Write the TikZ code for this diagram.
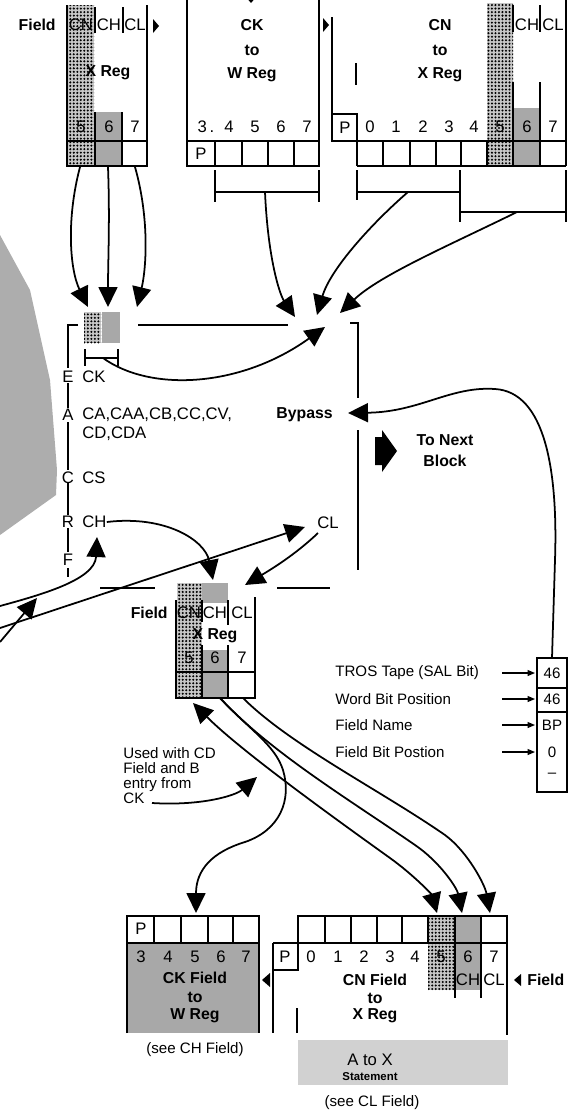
\documentclass[tikz,border=0pt]{standalone}
\usepackage{fontspec}
\setmainfont{Liberation Sans}
\usetikzlibrary{arrows.meta,patterns.meta,positioning}
\tikzset{
  % text labels
  lbl/.style={inner sep=0pt, font=\fontsize{9.5}{10}\selectfont},
  blbl/.style={inner sep=0pt, font=\fontsize{9}{10}\selectfont\bfseries},
  slbl/.style={inner sep=0pt, font=\fontsize{8.6}{8.6}\selectfont},
  tlbl/.style={inner sep=0pt, font=\fontsize{6.5}{7}\selectfont\bfseries},
  % register lines and frames
  cellline/.style={line width=0.8pt},
  frameline/.style={line width=1.4pt},
  coarse/.style={fill=black!22, postaction={pattern={Dots[distance=2pt,radius=0.65pt]}}},
  fine/.style={fill=black!34},
  light/.style={fill=black!18},
  % arrows
  bigtip/.tip={Triangle[length=0.4cm,width=0.38cm]},
  bigarr/.style={-bigtip, line width=1pt},
  dblarr/.style={bigtip-bigtip, line width=1pt},
  smarr/.style={-{Triangle[length=0.15cm,width=0.12cm]}, line width=0.7pt},
}
\begin{document}
\begin{tikzpicture}[x=0.02cm, y=-0.02cm]
  \useasboundingbox (0,0) rectangle (573,1119);

  % shaded wedge on the left
  \fill[black!32] (0,235) -- (30,290) -- (50,380) -- (57,470) -- (56,495) -- (0,535) -- cycle;

  % ---- top left: X Reg ----
  \fill[coarse] (67,5) rectangle (94,166);
  \fill[fine] (95,112) rectangle (122,166);
  \draw[cellline] (67,5) -- (67,166) -- (147,166) -- (147,5);
  \draw[cellline] (67,141) -- (147,141);
  \draw[cellline] (95,7) -- (95,33) (123,7) -- (123,33);
  \draw[cellline] (95,112) -- (95,166) (122,112) -- (122,166);
  \fill (153,19) -- (159,26) -- (153,33) -- cycle;
  \node[blbl, anchor=east] (fieldA) at (56,25) {Field};
  \node[lbl] (cnA) at (81,25) {CN};
  \node[lbl] (chA) at (109,25) {CH};
  \node[lbl] (clA) at (135,25) {CL};
  \node[blbl] (xregA) at (108,73) {X Reg};
  \node[lbl] (fiveA) at (81,127) {5};
  \node[lbl] (sixA) at (109,127) {6};
  \node[lbl] (sevenA) at (135,127) {7};

  % ---- top middle: CK to W Reg ----
  \fill (245,-4) -- (257,-4) -- (251,3) -- cycle;
  \draw[cellline] (187,-2) -- (187,166) -- (319,166) -- (319,-2);
  \draw[cellline] (187,141) -- (319,141);
  \foreach \x in {215,242,268,294}
    \draw[cellline] (\x,141) -- (\x,166);
  \node[blbl] (ckB) at (252,25) {CK};
  \node[blbl] (toB) at (252,50) {to};
  \node[blbl] (wregB) at (252,75) {W Reg};
  \node[lbl] (pB) at (201,154) {P};
  \node[lbl] (threeB) at (206,127) {3\,.};
  \node[lbl] (fourB) at (229,127) {4};
  \node[lbl] (fiveB) at (255,127) {5};
  \node[lbl] (sixB) at (281,127) {6};
  \node[lbl] (sevenB) at (307,127) {7};
  \draw[cellline] (215,170) -- (215,202) (319,170) -- (319,202);
  \draw[frameline] (215,192) -- (319,192);

  % ---- top right: CN to X Reg ----
  \fill[coarse] (487,3) rectangle (513,166);
  \fill[fine] (513,108) rectangle (540,166);
  \fill (323,18) -- (329,25) -- (323,32) -- cycle;
  \draw[cellline] (332,17) -- (332,141) -- (357,141);
  \draw[cellline] (332,114) -- (357,114) -- (357,166);
  \draw[cellline] (357,141) -- (566,141) (357,166) -- (566,166);
  \draw[cellline] (566,-2) -- (566,166);
  \foreach \x in {383,410,436,461,487,513,540}
    \draw[cellline] (\x,141) -- (\x,166);
  \draw[cellline] (513,82) -- (513,141) (540,82) -- (540,141);
  \draw[cellline] (513,5) -- (513,32) (540,5) -- (540,32);
  \draw[cellline] (356,63) -- (356,85);
  \node[blbl] (cnC) at (440,25) {CN};
  \node[blbl] (toC) at (440,50) {to};
  \node[blbl] (xregC) at (440,75) {X Reg};
  \node[lbl] (chC) at (527,25) {CH};
  \node[lbl] (clC) at (553,25) {CL};
  \node[lbl] (pC) at (345,128) {P};
  \foreach \d/\x in {0/370,1/396,2/423,3/449,4/474,5/500,6/527,7/553}
    \node[lbl] (digC\d) at (\x,127) {\d};
  \draw[cellline] (357,170) -- (357,200) (460,170) -- (460,222) (566,170) -- (566,222);
  \draw[frameline] (357,192) -- (460,192) (460,212) -- (566,212);

  % ---- emit block ----
  \fill[coarse] (84,312) rectangle (101,343);
  \fill[fine] (102,312) rectangle (120,343);
  \draw[cellline] (85,349) -- (85,366) (118,349) -- (118,366);
  \draw[frameline] (85,358) -- (118,358);
  \draw[frameline] (78,325) -- (68,325) -- (68,368);
  \draw[frameline] (68,383) -- (68,408) (68,422) -- (68,470) (68,483) -- (68,515)
    (68,528) -- (68,552) (68,568) -- (68,577);
  \draw[frameline] (138,325) -- (288,325);
  \draw[frameline] (350,323) -- (358,323) -- (358,398);
  \draw[frameline] (358,430) -- (358,570);
  \draw[frameline] (100,588) -- (155,588) (277,588) -- (330,588);
  \node[lbl] (letE) at (68,377) {E};
  \node[lbl] (letA) at (68,415) {A};
  \node[lbl] (letC) at (68,478) {C};
  \node[lbl] (letR) at (68,522) {R};
  \node[lbl] (letF) at (68,560) {F};
  \node[lbl, anchor=west] (ckD) at (82,377) {CK};
  \node[lbl, anchor=west] (caD) at (82,415) {CA,CAA,CB,CC,CV,};
  \node[lbl, anchor=west] (cdD) at (82,434) {CD,CDA};
  \node[lbl, anchor=west] (csD) at (82,478) {CS};
  \node[lbl, anchor=west] (chD) at (82,522) {CH};
  \node[lbl, anchor=west] (clD) at (317,523) {CL};
  \node[blbl, anchor=east] (bypass) at (333,415) {Bypass};
  \fill (375,437) -- (382,437) -- (382,430) -- (397,451) -- (382,472) -- (382,465) -- (375,465) -- cycle;
  \node[blbl] (tonext) at (445,440) {To Next};
  \node[blbl] (block) at (445,461) {Block};

  % ---- lower X Reg ----
  \fill[coarse] (177,583) rectangle (202,698);
  \fill[fine] (202,583) rectangle (228,603);
  \fill[fine] (202,650) rectangle (228,698);
  \draw[cellline] (176,600) -- (176,698) -- (255,698) -- (255,597);
  \draw[cellline] (176,672) -- (255,672);
  \draw[cellline] (202,645) -- (202,698) (228,645) -- (228,698);
  \draw[cellline] (202,600) -- (202,622) (228,600) -- (228,625);
  \node[blbl, anchor=east] (fieldE) at (168,613) {Field};
  \node[lbl] (cnE) at (189,613) {CN};
  \node[lbl] (chE) at (215,613) {CH};
  \node[lbl] (clE) at (242,613) {CL};
  \node[blbl] (xregE) at (215,636) {X Reg};
  \node[lbl] (fiveE) at (189,658) {5};
  \node[lbl] (sixE) at (215,658) {6};
  \node[lbl] (sevenE) at (242,658) {7};

  % ---- TROS tape box ----
  \draw[cellline] (537,658) rectangle (567,792);
  \draw[cellline] (537,688) -- (567,688) (537,712) -- (567,712);
  \node[slbl] (tros1) at (552,673) {46};
  \node[slbl] (tros2) at (552,699) {46};
  \node[slbl] (tros3) at (552,725) {BP};
  \node[slbl] (tros4) at (552,752) {0};
  \node[slbl] (tros5) at (552,775) {--};
  \node[slbl, anchor=west] (trosL1) at (335,673) {TROS Tape (SAL Bit)};
  \node[slbl, anchor=west] (trosL2) at (335,699) {Word Bit Position};
  \node[slbl, anchor=west] (trosL3) at (335,725) {Field Name};
  \node[slbl, anchor=west] (trosL4) at (335,752) {Field Bit Postion};
  \foreach \y in {673,699,725,752}
    \draw[smarr] (502,\y) -- (535,\y);
  \coordinate (trostop) at (552,658);

  % ---- note ----
  \node[slbl, anchor=north west, align=left] (note) at (123,747)
    {Used with CD\\Field and B\\entry from\\CK};

  % ---- bottom left: CK Field to W Reg ----
  \fill[fine] (127,943) rectangle (259,1033);
  \draw[cellline] (127,1033) -- (127,916) -- (259,916) -- (259,1033);
  \draw[cellline] (127,943) -- (259,943);
  \foreach \x in {154,181,208,233}
    \draw[cellline] (\x,916) -- (\x,943);
  \node[lbl] (pF) at (141,929) {P};
  \foreach \d/\x in {3/141,4/168,5/195,6/221,7/246}
    \node[lbl] (digF\d) at (\x,957) {\d};
  \node[blbl] (ckF) at (195,978) {CK Field};
  \node[blbl] (toF) at (195,997) {to};
  \node[blbl] (wregF) at (195,1016) {W Reg};
  \node[slbl] (seeF) at (195,1050) {(see CH Field)};

  % ---- bottom right: CN Field to X Reg ----
  \fill[coarse] (428,916) rectangle (455,990);
  \fill[fine] (455,916) rectangle (481,990);
  \fill[light] (298,1040) rectangle (508,1085);
  \draw[cellline] (298,943) -- (298,916) -- (507,916) -- (507,1035);
  \draw[cellline] (273,943) -- (507,943);
  \draw[cellline] (273,943) -- (273,1033);
  \draw[cellline] (273,970) -- (298,970) -- (298,943);
  \foreach \x in {325,351,377,402,428,455,481}
    \draw[cellline] (\x,916) -- (\x,943);
  \draw[cellline] (455,943) -- (455,998) (481,943) -- (481,998);
  \draw[cellline] (297,1008) -- (297,1033);
  \fill (270,973) -- (262,980) -- (270,987) -- cycle;
  \fill (521,974) -- (514,980) -- (521,986) -- cycle;
  \node[lbl] (pG) at (285,957) {P};
  \foreach \d/\x in {0/311,1/338,2/364,3/390,4/415,5/441,6/468,7/494}
    \node[lbl] (digG\d) at (\x,957) {\d};
  \node[lbl] (chG) at (468,980) {CH};
  \node[lbl] (clG) at (494,980) {CL};
  \node[blbl, anchor=west] (fieldG) at (527,980) {Field};
  \node[blbl] (cnG) at (375,980) {CN Field};
  \node[blbl] (toG) at (375,998) {to};
  \node[blbl] (xregG) at (375,1016) {X Reg};
  \node[lbl] (atox) at (370,1060) {A to X};
  \node[tlbl] (stmt) at (370,1077) {Statement};
  \node[slbl] (seeG) at (372,1103) {(see CL Field)};

  % ---- connectors ----
  \coordinate (xa5) at (80,167);
  \coordinate (xa6) at (108,167);
  \coordinate (xa7) at (135,167);
  \coordinate (emit5) at (88,307);
  \coordinate (emit6) at (108,307);
  \coordinate (emit7) at (137,307);
  \draw[bigarr] (xa5) .. controls (66,220) and (70,270) .. (emit5);
  \draw[bigarr] (xa6) .. controls (110,220) and (108,260) .. (emit6);
  \draw[bigarr] (xa7) .. controls (150,220) and (146,270) .. (emit7);

  \coordinate (ckbr) at (265,192);
  \coordinate (cnbr1) at (408,192);
  \coordinate (cnbr2) at (517,212);
  \coordinate (hub1) at (295,317);
  \coordinate (hub2) at (317,315);
  \coordinate (hub3) at (340,313);
  \coordinate (hub4) at (325,327);
  \draw[bigarr] (ckbr) .. controls (268,260) and (280,295) .. (hub1);
  \draw[bigarr] (cnbr1) .. controls (370,225) and (330,270) .. (hub2);
  \draw[bigarr] (cnbr2) .. controls (450,245) and (380,275) .. (hub3);
  \draw[bigarr] (103,358) .. controls (150,392) and (240,388) .. (hub4);

  \draw[bigarr] (chD.east) .. controls (165,515) and (205,540) .. (213,580);
  \draw[bigarr] (318,533) .. controls (295,555) and (270,570) .. (245,585);
  \draw[bigarr] (0,606) .. controls (40,595) and (95,580) .. (97,537);
  \draw[bigarr] (0,628) -- (305,527);
  \draw[bigarr] (0,642) -- (37,598);

  \draw[bigarr] (trostop) -- (555,560) .. controls (558,470) and (545,392) .. (495,389)
    .. controls (450,386) and (420,412) .. (348,413);

  \coordinate (cn5) at (437,913);
  \coordinate (cn6) at (462,913);
  \coordinate (cn7) at (490,913);
  \coordinate (ckfld) at (196,913);
  \draw[dblarr] (193,703) .. controls (240,750) and (330,815) .. (390,858)
    .. controls (415,876) and (432,895) .. (cn5);
  \draw[bigarr] (220,698) .. controls (270,752) and (350,800) .. (415,845)
    .. controls (440,862) and (457,888) .. (cn6);
  \draw[bigarr] (243,698) .. controls (290,745) and (380,790) .. (445,835)
    .. controls (468,852) and (485,885) .. (cn7);
  \draw[bigarr] (220,698) .. controls (250,730) and (275,745) .. (283,770)
    .. controls (292,800) and (280,830) .. (245,842)
    .. controls (212,852) and (196,870) .. (ckfld);
  \draw[bigarr] (152,803) .. controls (200,806) and (235,796) .. (257,777);
\end{tikzpicture}
\end{document}
